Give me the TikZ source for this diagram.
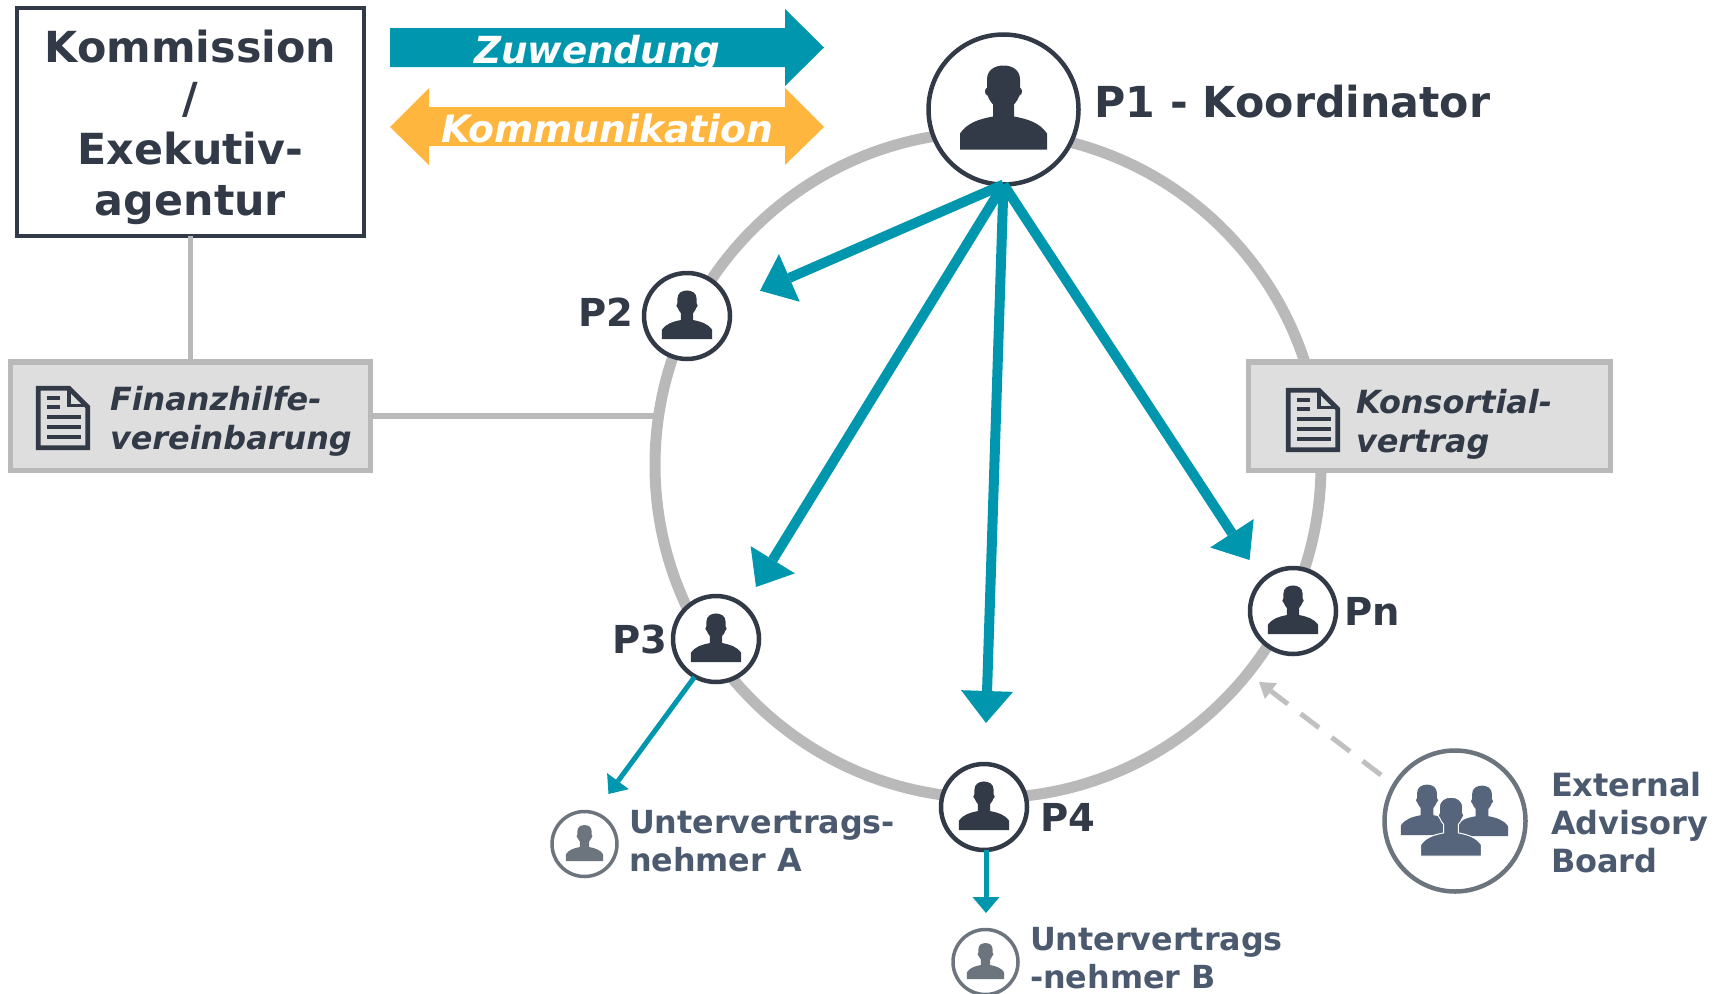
\documentclass[tikz,border=0pt]{standalone}
\usepackage{fontspec}
\setmainfont{DejaVu Sans}
\usetikzlibrary{arrows.meta}
\definecolor{ink}{HTML}{333A47}
\definecolor{teal1}{HTML}{0097AE}
\definecolor{gold1}{HTML}{FFB63E}
\definecolor{ringgrey}{HTML}{B9B9B9}
\definecolor{boxfill}{HTML}{DEDEDE}
\definecolor{subgrey}{HTML}{6C747E}
\definecolor{subtext}{HTML}{4C5A70}
\definecolor{boardblue}{HTML}{56657B}
\newcommand{\fsz}[2]{\fontsize{#1}{#2}\selectfont\bfseries}
\tikzset{
  x=1pt,y=-1pt,
  every node/.style={inner sep=0pt,outer sep=0pt},
  lbl/.style={anchor=base west,text=ink,font=\fsz{#1}{#1}},
  sublbl/.style={anchor=base west,align=left,text=subtext,font=\fsz{31.8}{38.5}},
  partner/.style={circle,draw=ink,line width=4.5pt,fill=white,minimum size=#1},
  minor/.style={circle,draw=subgrey,line width=3.5pt,fill=white,minimum size=#1},
  doccard/.style={draw=ringgrey,fill=boxfill,line width=5.5pt,rectangle,minimum width=360pt,minimum height=108.5pt},
  doctext/.style={anchor=base west,align=left,text=ink,font=\fsz{31.9}{39}\itshape},
  bigflow/.style={draw=teal1,line width=10pt,-{Triangle[length=32pt,width=52pt,line width=0pt,fill=teal1]}},
  smallflow/.style={draw=teal1,line width=5pt,-{Triangle[length=16pt,width=27pt,line width=0pt,fill=teal1]}},
  person/.pic={
    \path[pic actions] (-43.5,40) -- (-43.5,24) .. controls (-36,13) and (-24,9.5) .. (-10.5,7)
      -- (-10.5,-5) .. controls (-13,-8) and (-15,-11) .. (-16,-14)
      .. controls (-19,-15) and (-19.5,-20) .. (-16.5,-22) -- (-16.5,-30)
      .. controls (-16.5,-40) and (-8,-44) .. (0,-44) .. controls (8,-44) and (16.5,-40) .. (16.5,-30)
      -- (16.5,-22) .. controls (19.5,-20) and (19,-15) .. (16,-14)
      .. controls (15,-11) and (13,-8) .. (10.5,-5) -- (10.5,7)
      .. controls (24,9.5) and (36,13) .. (43.5,24) -- (43.5,40) -- cycle;
  },
  docicon/.pic={
    \draw[ink,line width=4.8pt,line join=miter] (2.3,2.3) -- (33,2.3) -- (51.7,21) -- (51.7,61.7) -- (2.3,61.7) -- cycle;
    \draw[ink,line width=3.8pt] (33,2.3) -- (33,19.5) -- (51.7,19.5);
    \foreach \yy in {12,21} \draw[ink,line width=4.8pt] (10.6,\yy) -- (24,\yy);
    \foreach \yy in {31,41,51} \draw[ink,line width=4.8pt] (10.6,\yy) -- (44.6,\yy);
  }
}
\begin{document}
\begin{tikzpicture}
\useasboundingbox (0,0) rectangle (1723,993);
% ring
\node[circle,draw=ringgrey,line width=11pt,minimum size=666pt] (ring) at (988,465) {};
% cards and commission box
\node[rectangle,draw=ink,line width=4pt,fill=white,minimum width=347pt,minimum height=228pt] (kom) at (190.5,122) {};
\node[doccard] (fin) at (190.5,416) {};
\node[doccard,minimum width=362pt] (kons) at (1429.5,416) {};
\draw[ringgrey,line width=5.5pt] (kom.south) -- (fin.north);
\draw[ringgrey,line width=5.5pt] (fin.east) -- (fin.east -| ring.west);
% legend arrows
\fill[teal1] (390,28) -- (785,28) -- (785,9) -- (824,47.5) -- (785,86) -- (785,67) -- (390,67) -- cycle;
\fill[gold1] (390,127) -- (429,88) -- (429,107) -- (785,107) -- (785,88) -- (824,127) -- (785,165) -- (785,146) -- (429,146) -- (429,165) -- cycle;
\node[anchor=base west,text=white,font=\fsz{37.3}{37}\itshape] (zuw) at (474,63) {Zuwendung};
\node[anchor=base west,text=white,font=\fsz{37.7}{37}\itshape] (kmk) at (441,142) {Kommunikation};
% commission text
\node[align=center,text=ink,font=\fsz{42.8}{51}] (komt) at (190.5,127) {Kommission\\/\\Exekutiv-\\agentur};
% document texts
\pic at (36,386) {docicon};
\pic at (1286,388) {docicon};
\node[doctext,anchor=west] (fint) at (110,421) {Finanzhilfe-\\vereinbarung};
\node[doctext,anchor=west] (konst) at (1356,424) {Konsortial-\\vertrag};
% partners
\node[partner=150pt] (p1) at (1003.5,109.5) {};
\node[partner=86pt] (p2) at (687,316) {};
\node[partner=86pt] (p3) at (716,639) {};
\node[partner=86pt] (p4) at (984,807) {};
\node[partner=86pt] (pn) at (1293,611) {};
\node[minor=65pt] (suba) at (584.5,844) {};
\node[minor=65pt] (subb) at (985.5,962) {};
\node[minor=141pt,line width=4.5pt] (eab) at (1455,821) {};
\pic[fill=ink] at (p1.center) {person};
\pic[fill=ink,scale=.58] at (p2.center) {person};
\pic[fill=ink,scale=.58] at (p3.center) {person};
\pic[fill=ink,scale=.58] at (p4.center) {person};
\pic[fill=ink,scale=.58] at (pn.center) {person};
\pic[fill=subgrey,scale=.43] at (suba.center) {person};
\pic[fill=subgrey,scale=.43] at (subb.center) {person};
\pic[fill=boardblue,scale=.6] at (1427,811) {person};
\pic[fill=boardblue,scale=.6] at (1482,812) {person};
\pic[fill=boardblue,draw=white,line width=1pt,scale=.7] at (1451,828) {person};
% arrows
\coordinate (t2) at (760,290.7);
\coordinate (t3) at (756,587);
\coordinate (t4) at (986,723);
\coordinate (tn) at (1249.5,560);
\coordinate (ta) at (608.5,794);
\coordinate (tb) at (986,913);
\coordinate (te) at (1259,682);
\coordinate (es) at (1381,775);
\coordinate (sa) at (694.5,677);
\draw[bigflow] (p1.south) -- (t2);
\draw[bigflow] (p1.south) -- (t3);
\draw[bigflow] (p1.south) -- (t4);
\draw[bigflow] (p1.south) -- (tn);
\draw[smallflow] (sa) -- (ta);
\draw[smallflow] (tb |- p4.south) -- (tb);
\draw[draw=ringgrey!90,line width=5pt,dash pattern=on 23pt off 16pt,-{Triangle[length=15pt,width=20pt,line width=0pt,fill=ringgrey!90]}] (es) -- (te);
% labels
\node[lbl=42.7] (l1) at (1094.5,117) {P1 - Koordinator};
\node[lbl=38.5] (l2) at (578,326.5) {P2};
\node[lbl=38.5] (l3) at (612,653) {P3};
\node[lbl=38.5] (l4) at (1040,831) {P4};
\node[lbl=38.5] (ln) at (1344,625.5) {Pn};
\node[sublbl,anchor=west] (la) at (629,841) {Untervertrags-\\nehmer A};
\node[sublbl,anchor=west] (lb) at (1030,958) {Untervertrags\\-nehmer B};
\node[sublbl,anchor=west,font=\fsz{32}{38}] (le) at (1551,822.5) {External\\Advisory\\Board};
\end{tikzpicture}
\end{document}
